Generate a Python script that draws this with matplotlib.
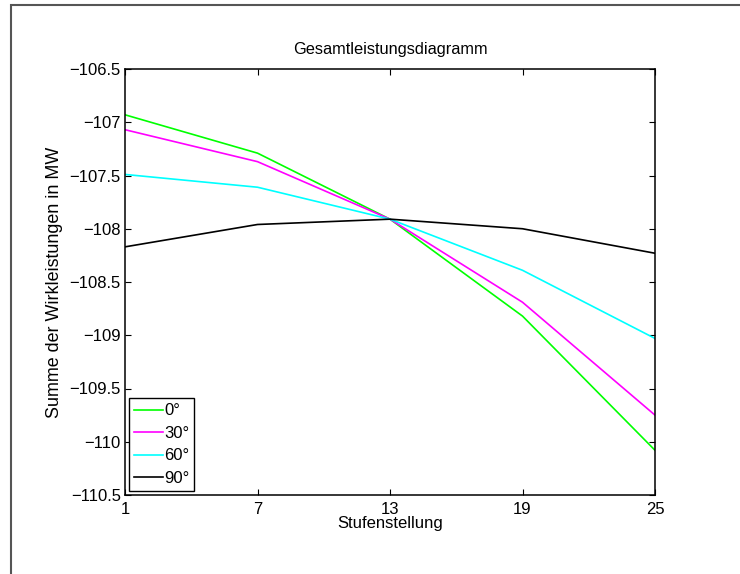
import matplotlib
matplotlib.use("Agg")
import matplotlib.pyplot as plt
from matplotlib.patches import Rectangle

# tap positions and summed active power (MW) per phase angle
stufen = [1, 7, 13, 19, 25]
p_0 = [-106.93, -107.29, -107.91, -108.82, -110.08]
p_30 = [-107.07, -107.37, -107.91, -108.69, -109.75]
p_60 = [-107.49, -107.61, -107.91, -108.39, -109.03]
p_90 = [-108.17, -107.96, -107.91, -108.00, -108.23]
labels = ["0°", "30°", "60°", "90°"]
colors = ["#00ff00", "#ff00ff", "#00ffff", "#000000"]
yticks = [-110.5, -110, -109.5, -109, -108.5, -108, -107.5, -107, -106.5]

plt.rcParams["font.family"] = ["Liberation Sans", "DejaVu Sans"]
plt.rcParams["font.size"] = 12

W, H = 740, 574
fig = plt.figure(figsize=(W / 100, H / 100), dpi=100)
ax = fig.add_axes([125 / W, (H - 495) / H, (655 - 125) / W, (495 - 69) / H])

for vals, lab, col in zip([p_0, p_30, p_60, p_90], labels, colors):
    ax.plot(stufen, vals, color=col, lw=1.2, label=lab)

ax.set_xlim(1, 25)
ax.set_ylim(-110.5, -106.5)
ax.set_xticks(stufen)
ax.set_yticks(yticks)
ax.set_yticklabels([f"{v:g}".replace("-", "\u2212") for v in yticks])
ax.tick_params(direction="in", length=4, width=0.8, top=True, right=True, pad=3)
ax.tick_params(axis="x", pad=5)
for sp in ax.spines.values():
    sp.set_linewidth(1.1)

ax.set_title("Gesamtleistungsdiagramm", fontsize=11.8, pad=11)
ax.set_xlabel("Stufenstellung", labelpad=-1)
ax.set_ylabel("Summe der Wirkleistungen in MW", fontsize=12.9, labelpad=5)

leg = ax.legend(loc="lower left", fancybox=False, framealpha=1, edgecolor="black",
                handlelength=1.7, handletextpad=0.1, borderaxespad=0.25,
                labelspacing=0.45, borderpad=0.3)
leg.get_frame().set_linewidth(1.0)

# outer figure border
fig.add_artist(Rectangle((11 / W, -0.1), 1.0, (H - 5) / H + 0.1, transform=fig.transFigure,
                         fill=False, edgecolor="#555555", lw=1.5))

fig.savefig("out.png", dpi=100)
